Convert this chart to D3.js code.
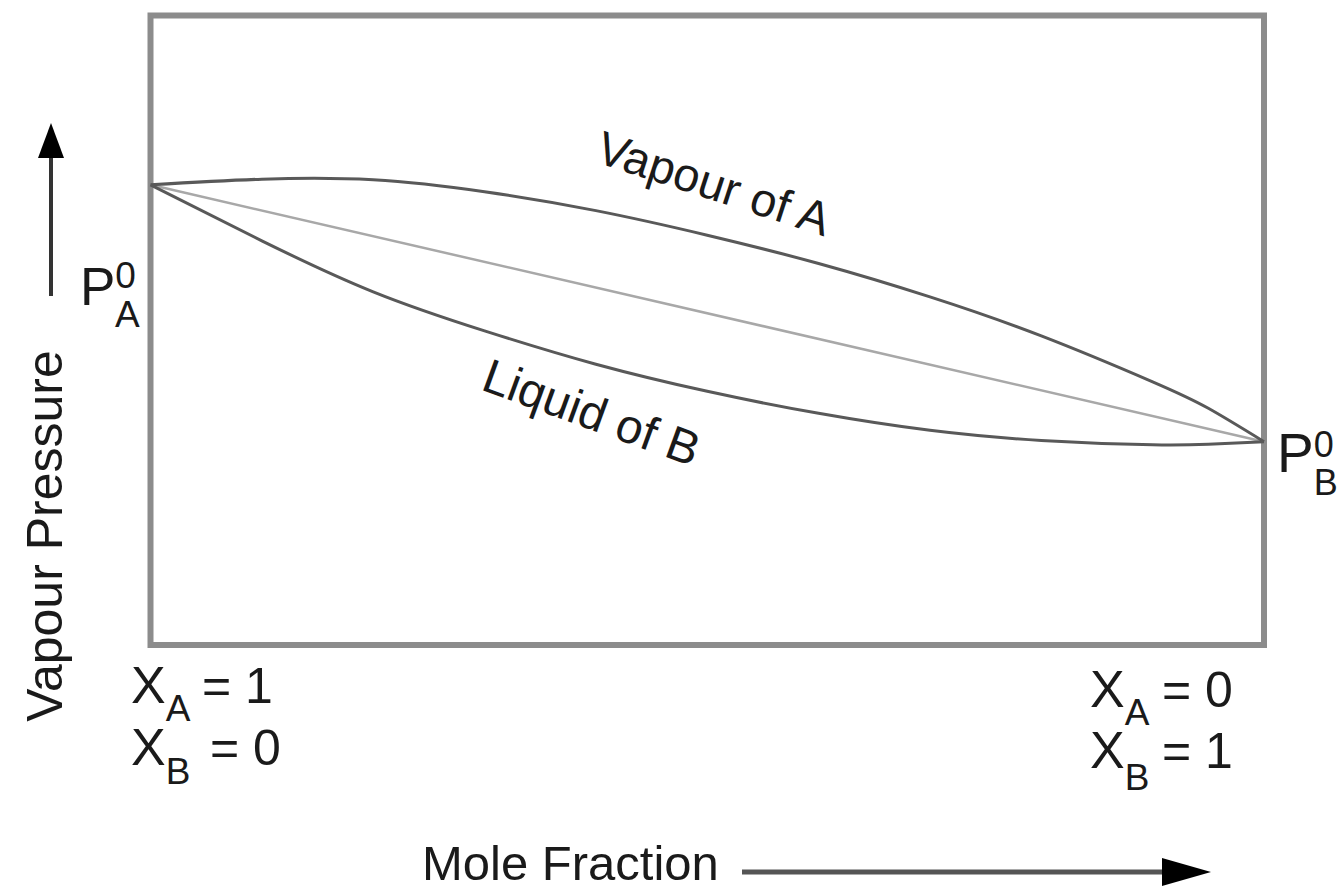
<!DOCTYPE html>
<html>
<head>
<meta charset="utf-8">
<script src="https://cdn.jsdelivr.net/npm/d3@7"></script>
<style>
  html, body { margin: 0; padding: 0; background: #fff; }
  svg { display: block; }
  text { font-family: "Liberation Sans", Arial, Helvetica, sans-serif; fill: #1a1a1a; }
</style>
</head>
<body>
<svg id="chart" width="1338" height="890"></svg>
<script>
// ---- data (mole fraction of B on x, vapour pressure in arbitrary units on y) ----
const moleFractionB = [0, 0.1, 0.2, 0.3, 0.4, 0.5, 0.6, 0.7, 0.8, 0.9, 0.95, 1];
const vapourOfA     = [73.1, 74.0, 73.9, 72.0, 69.0, 65.1, 60.6, 55.3, 49.1, 41.8, 37.6, 32.3];
const liquidOfB     = [73.1, 64.2, 56.1, 49.9, 44.6, 40.3, 36.8, 34.1, 32.5, 31.8, 31.9, 32.3];
const idealLineX    = [0, 1];
const idealLineP    = [73.1, 32.3];
const curveLabels   = ["Vapour of A", "Liquid of B"];
const xAxisTitle    = "Mole Fraction";
const yAxisTitle    = "Vapour Pressure";

const svg = d3.select("#chart");

const x = d3.scaleLinear().domain([0, 1]).range([150.5, 1264]);
const y = d3.scaleLinear().domain([0, 100]).range([645, 15.5]);

// frame
svg.append("rect")
  .attr("x", x(0)).attr("y", y(100))
  .attr("width", x(1) - x(0)).attr("height", y(0) - y(100))
  .attr("fill", "none").attr("stroke", "#8c8c8c").attr("stroke-width", 6);

const line = d3.line().x(d => x(d[0])).y(d => y(d[1])).curve(d3.curveNatural);

// ideal straight line
svg.append("path")
  .datum(d3.zip(idealLineX, idealLineP))
  .attr("d", d3.line().x(d => x(d[0])).y(d => y(d[1])))
  .attr("fill", "none").attr("stroke", "#a8a8a8").attr("stroke-width", 2.5);

// curves
[vapourOfA, liquidOfB].forEach(vals => {
  svg.append("path")
    .datum(d3.zip(moleFractionB, vals))
    .attr("d", line)
    .attr("fill", "none").attr("stroke", "#595959").attr("stroke-width", 3);
});

// curve labels
svg.append("text").text(curveLabels[0])
  .attr("text-anchor", "middle").attr("font-size", 47)
  .attr("transform", "translate(709,199) rotate(18)");
svg.append("text").text(curveLabels[1])
  .attr("text-anchor", "middle").attr("font-size", 48)
  .attr("transform", "translate(586,428) rotate(20)");

// y axis title + arrow
svg.append("text").text(yAxisTitle)
  .attr("text-anchor", "middle").attr("font-size", 50)
  .attr("transform", "translate(62,536) rotate(-90)");
svg.append("line").attr("x1", 51).attr("x2", 51).attr("y1", 296).attr("y2", 150)
  .attr("stroke", "#333").attr("stroke-width", 4);
svg.append("path").attr("d", "M51,123 L38,158 L64,158 Z").attr("fill", "#000");

// x axis title + arrow
svg.append("text").text(xAxisTitle)
  .attr("x", 422).attr("y", 880).attr("font-size", 49);
svg.append("line").attr("x1", 742).attr("x2", 1170).attr("y1", 872).attr("y2", 872)
  .attr("stroke", "#555").attr("stroke-width", 5);
svg.append("path").attr("d", "M1211,872 L1162,858 L1162,886 Z").attr("fill", "#000");

// P with superscript 0 and subscript letter, one text element
function pSym(bx, by, size, sub, small, supDy, subDx, subDy) {
  const t = svg.append("text").attr("x", bx).attr("y", by).attr("font-size", size);
  t.append("tspan").text("P");
  t.append("tspan").text("0").attr("font-size", small).attr("dy", supDy);
  t.append("tspan").text(sub).attr("font-size", small).attr("dx", subDx).attr("dy", subDy);
}
pSym(80, 305, 53, "A", 37, -17, -21, 39);
pSym(1277, 472, 55, "B", 36, -15, -20, 38);

// X_i = n labels, one text element each
function eq(bx, by, sub, subDy, rhs, eqx) {
  const t = svg.append("text").attr("x", bx).attr("y", by).attr("font-size", 52);
  t.append("tspan").text("X");
  t.append("tspan").text(sub).attr("font-size", 37).attr("dy", subDy);
  t.append("tspan").text("= " + rhs).attr("font-size", 50).attr("x", eqx).attr("y", by);
}
eq(131, 703, "A", 18, "1", 202);
eq(131, 765, "B", 19, "0", 210);
eq(1090, 707, "A", 18, "0", 1162);
eq(1090, 768, "B", 22, "1", 1162);
</script>
</body>
</html>
